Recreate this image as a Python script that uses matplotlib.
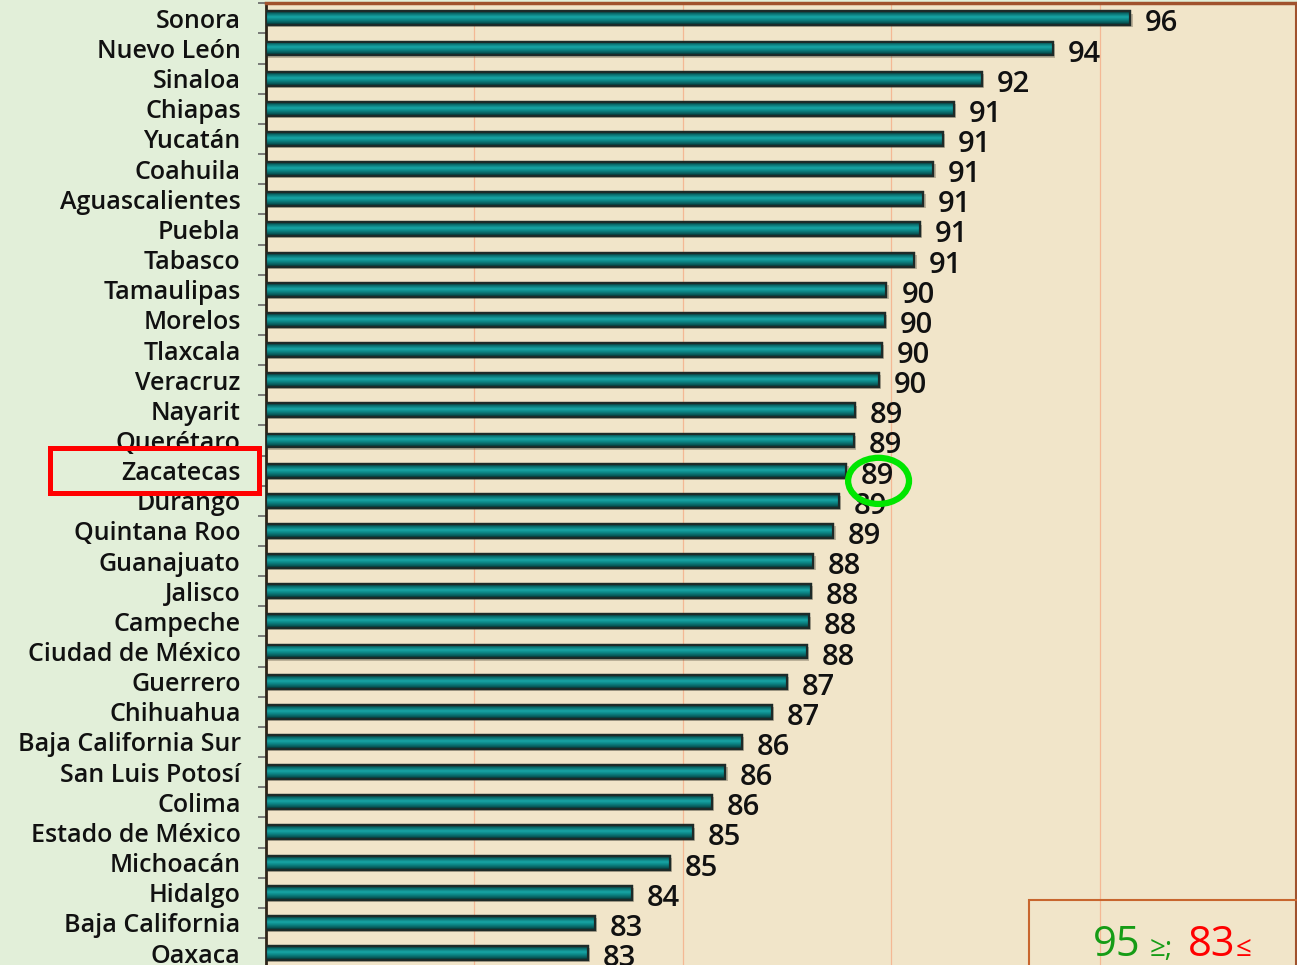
import numpy as np
import matplotlib
matplotlib.use('Agg')
import matplotlib.pyplot as plt
from matplotlib.colors import LinearSegmentedColormap
from matplotlib.patches import Rectangle, Ellipse
import matplotlib.transforms as mtransforms

plt.rcParams['font.family'] = ['Open Sans', 'DejaVu Sans']
plt.rcParams['font.weight'] = 'semibold'

# Estados, de mayor a menor
estados = ['Sonora', 'Nuevo León', 'Sinaloa', 'Chiapas', 'Yucatán', 'Coahuila',
           'Aguascalientes', 'Puebla', 'Tabasco', 'Tamaulipas', 'Morelos', 'Tlaxcala',
           'Veracruz', 'Nayarit', 'Querétaro', 'Zacatecas', 'Durango', 'Quintana Roo',
           'Guanajuato', 'Jalisco', 'Campeche', 'Ciudad de México', 'Guerrero',
           'Chihuahua', 'Baja California Sur', 'San Luis Potosí', 'Colima',
           'Estado de México', 'Michoacán', 'Hidalgo', 'Baja California', 'Oaxaca']
valores = [95.72, 93.87, 92.16, 91.49, 91.23, 91.0, 90.76, 90.68, 90.54, 89.88,
           89.84, 89.77, 89.70, 89.12, 89.10, 88.91, 88.74, 88.60, 88.12, 88.07,
           88.02, 87.97, 87.49, 87.13, 86.41, 86.01, 85.69, 85.24, 84.69, 83.77,
           82.89, 82.72]
resaltado = 'Zacatecas'
meta_alta = 95
meta_baja = 83

W, H = 1297, 965
fig = plt.figure(figsize=(W / 100, H / 100), dpi=100, facecolor='#e2efd9')

# area de la grafica (eje x arranca en 75)
x0_px, x1_px = 265.7, 1296
top_px = 3.3
paso_px = 30.15
n = len(estados)
ax = fig.add_axes([x0_px / W, 1 - (top_px + n * paso_px) / H,
                   (x1_px - x0_px) / W, n * paso_px / H])
ax.set_facecolor('#f1e5c9')

y = np.arange(n)
alto = 0.46

# sombra
ax.barh(y + 0.07, np.array(valores) - 75, left=75.06, height=alto,
        color='#5a5040', alpha=0.35, lw=0, zorder=2)
barras = ax.barh(y, np.array(valores) - 75, left=75, height=alto,
                 color='#0a7d7d', edgecolor='#1d2a28', lw=1.6, zorder=3)

# degradado tipo cilindro
cmap = LinearSegmentedColormap.from_list('teal', [
    (0.0, '#0b3030'), (0.18, '#0a6f6f'), (0.42, '#18a6a6'),
    (0.62, '#0c8585'), (0.85, '#075757'), (1.0, '#062626')])
grad = np.linspace(0, 1, 64).reshape(-1, 1)
for b in barras:
    bx, by, bw, bh = b.get_x(), b.get_y(), b.get_width(), b.get_height()
    im = ax.imshow(grad, extent=(bx, bx + bw, by + bh, by), origin='upper',
                   aspect='auto', cmap=cmap, zorder=3.5, interpolation='bilinear')
    im.set_clip_path(b)
    ax.add_patch(Rectangle((bx, by), bw, bh, fill=False, ec='#1d2a28', lw=1.6, zorder=4))

# etiquetas de valor
for yi, v in zip(y, valores):
    ax.annotate(f'{v:.0f}', (v, yi), xytext=(15, -13), textcoords='offset pixels',
                ha='left', va='baseline', fontsize=21, color='#111111', zorder=5)

ax.set_xlim(75, 75 + (x1_px - x0_px) / 41.72)
ax.set_ylim(n - 0.5, -0.5)
for g in [80, 85, 90, 95]:
    ax.axvline(g, color='#f4b894', lw=0.9, zorder=1)

ax.set_yticks(y)
ax.set_yticklabels(estados, fontsize=18, color='#111111')
ax.set_yticks(np.arange(-0.5, n, 1), minor=True)
ax.tick_params(axis='y', which='major', length=0, pad=18)
ax.tick_params(axis='y', which='minor', length=6, width=1.2, color='#666666')
ax.set_xticks([])

ax.spines['left'].set_color('#2e2418')
ax.spines['left'].set_linewidth(2)
ax.spines['top'].set_color('#a0522d')
ax.spines['top'].set_linewidth(2.5)
ax.spines['right'].set_color('#a0522d')
ax.spines['right'].set_linewidth(1.5)
ax.spines['bottom'].set_visible(False)

# resaltado de Zacatecas
iz = estados.index(resaltado)
vz = valores[iz]
tr = mtransforms.blended_transform_factory(fig.transFigure, ax.transData)
fig.add_artist(Rectangle((49.5 / W, iz - 0.76), (259 - 49.5) / W, 1.5, transform=tr,
                         fill=False, ec='#ff0000', lw=3.6, zorder=10))
ax.add_patch(Ellipse((vz + 0.78, iz + 0.34), 1.46, 1.53, fill=False,
                     ec='#00e600', lw=4.5, zorder=6, clip_on=False))

# recuadro de rangos
fig.add_artist(Rectangle((1029 / W, -0.05), 0.3, (H - 900) / H + 0.05,
                         transform=fig.transFigure, fill=False, ec='#c8662e', lw=1.5))
base = 1 - 956 / H
fig.text(1093 / W, base, f'{meta_alta}', fontsize=30, color='#169c16', va='baseline',
         fontweight='normal')
fig.text(1150 / W, base, '≥;', fontsize=20, color='#169c16', va='baseline',
         fontweight='normal')
fig.text(1188 / W, base, f'{meta_baja}', fontsize=30, color='#ff0000', va='baseline',
         fontweight='normal')
fig.text(1236 / W, base, '≤', fontsize=20, color='#ff0000', va='baseline',
         fontweight='normal')

fig.savefig('out.png', dpi=100, facecolor=fig.get_facecolor())
